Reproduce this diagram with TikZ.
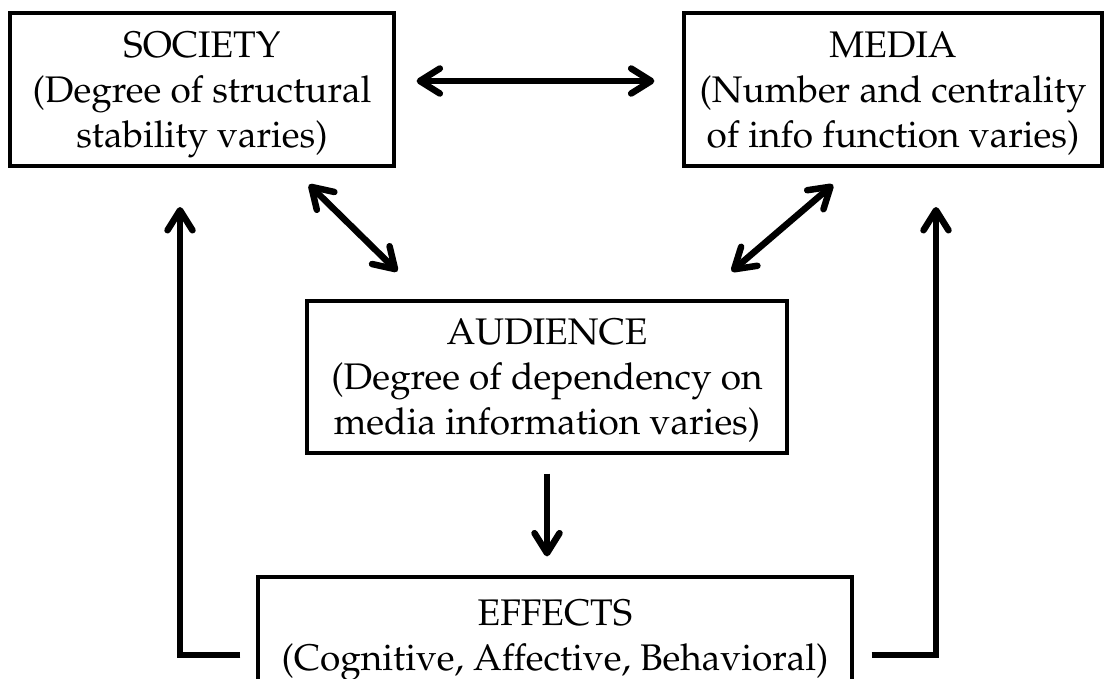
\documentclass[tikz,border=0pt]{standalone}
\usepackage[T1]{fontenc}
\usepackage{mathpazo}
\usetikzlibrary{arrows.meta,calc}
\begin{document}
\begin{tikzpicture}[x=1pt,y=-1pt,
  box/.style={draw, line width=3.2pt, align=center, inner sep=0pt, text depth=0pt,
    font=\fontsize{37}{45}\selectfont},
  tipb/.tip={Straight Barb[length=20pt,width=25pt,line cap=round,line join=round]},
  arr/.style={line width=6.5pt, -{tipb}},
  darr/.style={line width=6.5pt, {tipb}-{tipb}}]
\useasboundingbox (0,0) rectangle (1107,678);
\clip (0,0) rectangle (1107,678);
\fill[white] (0,0) rectangle (1107,678);
\node[box, minimum width=384pt, minimum height=153pt] (society) at (202,89.5)
  {SOCIETY\\(Degree of structural\\stability varies)};
\node[box, minimum width=418pt, minimum height=153pt] (media) at (893,89.5)
  {MEDIA\\(Number and centrality\\of info function varies)};
\node[box, minimum width=480pt, minimum height=152pt] (audience) at (547,377)
  {AUDIENCE\\(Degree of dependency on\\media information varies)};
\node[box, minimum width=594pt, minimum height=115.4pt] (effects) at (555,634.7)
  {EFFECTS\\(Cognitive, Affective, Behavioral)};
\coordinate (ltip) at (180,207);
\coordinate (rtip) at (936,207);
\draw[darr] ([shift={(21,-8.5)}]society.east) -- ([shift={(-28,-8.5)}]media.west);
\draw[darr] ([shift={(107,17)}]society.south) -- ([shift={(92,-28)}]audience.north west);
\draw[darr] ([shift={(-60,17)}]media.south) -- ([shift={(-57,-28)}]audience.north east);
\draw[arr] ([shift={(0,19)}]audience.south) -- ([shift={(0,-19)}]audience.south |- effects.north);
\draw[arr] ([shift={(-16,20.3)}]effects.west) -| (ltip);
\draw[arr] ([shift={(18,20.3)}]effects.east) -| (rtip);
\end{tikzpicture}
\end{document}
